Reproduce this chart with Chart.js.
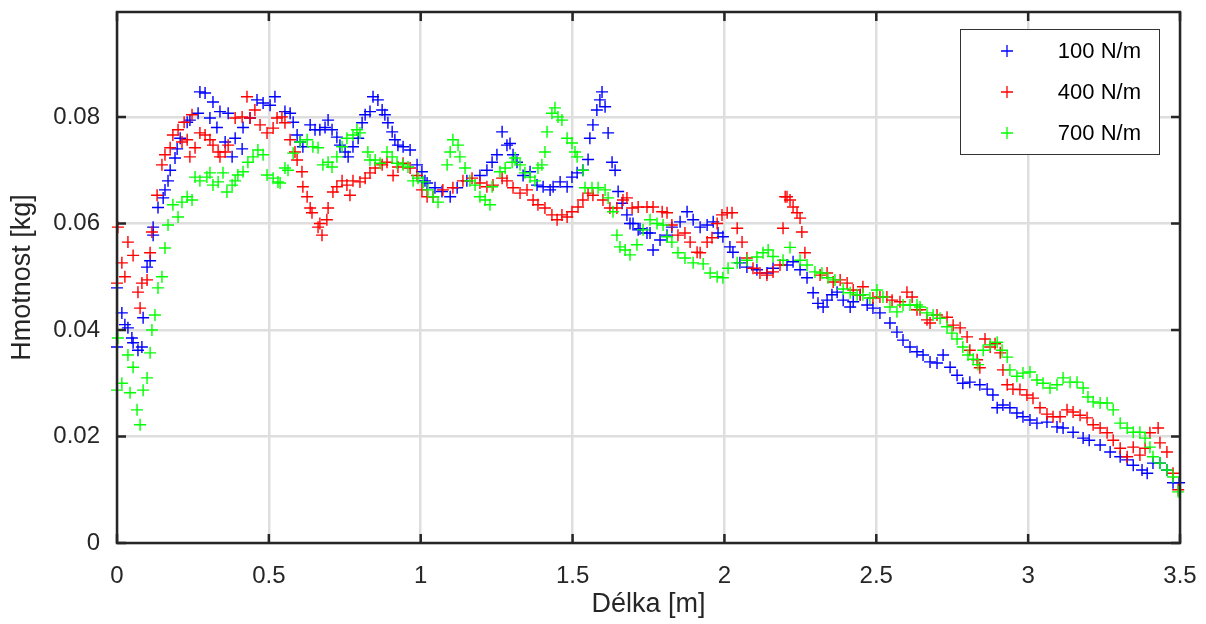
<!DOCTYPE html>
<html>
<head>
<meta charset="utf-8">
<title>Hmotnost</title>
<script src="https://cdn.jsdelivr.net/npm/chart.js@4.4.1/dist/chart.umd.min.js"></script>
<style>
  html, body { margin: 0; background: #fff; }
  .graphic-container { width: 1206px; height: 624px; position: relative; }
</style>
</head>
<body>
<div class="graphic-container"><canvas id="graphic"></canvas></div>
<script>
const xTicks = [0, 0.5, 1, 1.5, 2, 2.5, 3, 3.5];
const yTicks = [0, 0.02, 0.04, 0.06, 0.08];
const seriesNames = ["100 N/m", "400 N/m", "700 N/m"];
const seriesColors = ["#0000ff", "#ff0000", "#00ff00"];

// [délka m, hmotnost kg]
const spring100 = [[0.000,0.0479],[0.000,0.0368],[0.016,0.0432],[0.026,0.0410],[0.036,0.0404],[0.049,0.0385],[0.053,0.0376],[0.069,0.0362],[0.082,0.0368],[0.086,0.0423],[0.099,0.0518],[0.109,0.0530],[0.119,0.0578],[0.119,0.0593],[0.135,0.0630],[0.152,0.0648],[0.158,0.0663],[0.168,0.0680],[0.175,0.0700],[0.191,0.0723],[0.198,0.0740],[0.208,0.0760],[0.231,0.0790],[0.240,0.0794],[0.267,0.0807],[0.273,0.0847],[0.290,0.0845],[0.306,0.0798],[0.316,0.0828],[0.329,0.0780],[0.339,0.0810],[0.356,0.0753],[0.366,0.0807],[0.379,0.0725],[0.389,0.0760],[0.412,0.0740],[0.415,0.0780],[0.438,0.0798],[0.461,0.0832],[0.481,0.0826],[0.504,0.0822],[0.520,0.0838],[0.553,0.0810],[0.570,0.0807],[0.580,0.0790],[0.593,0.0766],[0.603,0.0753],[0.612,0.0744],[0.636,0.0785],[0.652,0.0776],[0.668,0.0776],[0.685,0.0780],[0.695,0.0794],[0.708,0.0776],[0.724,0.0762],[0.734,0.0747],[0.751,0.0734],[0.761,0.0725],[0.777,0.0744],[0.794,0.0760],[0.807,0.0789],[0.817,0.0804],[0.833,0.0810],[0.843,0.0838],[0.859,0.0832],[0.873,0.0813],[0.882,0.0804],[0.892,0.0789],[0.906,0.0772],[0.915,0.0757],[0.925,0.0747],[0.942,0.0744],[0.965,0.0738],[0.988,0.0710],[1.004,0.0697],[1.014,0.0680],[1.021,0.0676],[1.047,0.0667],[1.070,0.0660],[1.097,0.0650],[1.120,0.0667],[1.152,0.0680],[1.195,0.0690],[1.218,0.0700],[1.235,0.0715],[1.251,0.0729],[1.268,0.0772],[1.284,0.0747],[1.294,0.0750],[1.304,0.0729],[1.317,0.0715],[1.337,0.0690],[1.360,0.0697],[1.383,0.0672],[1.403,0.0669],[1.426,0.0663],[1.436,0.0669],[1.459,0.0678],[1.482,0.0669],[1.498,0.0687],[1.515,0.0695],[1.534,0.0700],[1.551,0.0720],[1.557,0.0760],[1.567,0.0785],[1.580,0.0813],[1.590,0.0832],[1.597,0.0847],[1.607,0.0819],[1.617,0.0770],[1.630,0.0715],[1.640,0.0700],[1.650,0.0660],[1.663,0.0638],[1.679,0.0616],[1.689,0.0600],[1.699,0.0600],[1.716,0.0588],[1.722,0.0590],[1.745,0.0582],[1.755,0.0582],[1.765,0.0550],[1.788,0.0569],[1.811,0.0578],[1.827,0.0593],[1.854,0.0603],[1.877,0.0622],[1.897,0.0607],[1.920,0.0593],[1.943,0.0597],[1.963,0.0603],[1.979,0.0582],[1.995,0.0575],[2.018,0.0556],[2.028,0.0546],[2.051,0.0526],[2.074,0.0518],[2.107,0.0513],[2.140,0.0507],[2.160,0.0516],[2.206,0.0522],[2.226,0.0528],[2.249,0.0513],[2.272,0.0498],[2.292,0.0470],[2.308,0.0450],[2.325,0.0443],[2.338,0.0456],[2.354,0.0466],[2.371,0.0471],[2.391,0.0456],[2.414,0.0443],[2.424,0.0453],[2.447,0.0466],[2.470,0.0447],[2.489,0.0441],[2.512,0.0432],[2.545,0.0413],[2.568,0.0396],[2.588,0.0381],[2.611,0.0368],[2.634,0.0359],[2.654,0.0353],[2.677,0.0340],[2.700,0.0338],[2.720,0.0353],[2.743,0.0330],[2.766,0.0315],[2.785,0.0300],[2.808,0.0302],[2.841,0.0297],[2.865,0.0289],[2.884,0.0278],[2.898,0.0254],[2.917,0.0259],[2.940,0.0254],[2.963,0.0244],[2.983,0.0237],[3.006,0.0231],[3.029,0.0225],[3.062,0.0227],[3.095,0.0218],[3.115,0.0216],[3.148,0.0208],[3.181,0.0197],[3.201,0.0193],[3.237,0.0184],[3.270,0.0171],[3.303,0.0162],[3.326,0.0156],[3.346,0.0146],[3.375,0.0137],[3.392,0.0131],[3.411,0.0150],[3.434,0.0150],[3.457,0.0137],[3.477,0.0113],[3.497,0.0113]];

const spring400 = [[0.000,0.0488],[0.003,0.0593],[0.016,0.0526],[0.026,0.0500],[0.036,0.0565],[0.053,0.0540],[0.069,0.0471],[0.076,0.0441],[0.082,0.0488],[0.099,0.0494],[0.109,0.0545],[0.115,0.0584],[0.132,0.0653],[0.148,0.0710],[0.158,0.0729],[0.175,0.0742],[0.184,0.0766],[0.201,0.0776],[0.214,0.0753],[0.221,0.0790],[0.231,0.0757],[0.240,0.0725],[0.247,0.0804],[0.257,0.0742],[0.273,0.0770],[0.290,0.0766],[0.306,0.0757],[0.316,0.0747],[0.333,0.0734],[0.339,0.0725],[0.356,0.0734],[0.366,0.0747],[0.389,0.0798],[0.412,0.0800],[0.428,0.0838],[0.438,0.0798],[0.454,0.0813],[0.471,0.0785],[0.494,0.0770],[0.514,0.0779],[0.527,0.0798],[0.543,0.0800],[0.553,0.0789],[0.570,0.0757],[0.586,0.0734],[0.593,0.0719],[0.609,0.0697],[0.612,0.0669],[0.626,0.0650],[0.636,0.0629],[0.642,0.0620],[0.662,0.0593],[0.668,0.0600],[0.675,0.0578],[0.691,0.0607],[0.695,0.0629],[0.711,0.0659],[0.724,0.0669],[0.741,0.0680],[0.757,0.0672],[0.767,0.0653],[0.777,0.0680],[0.800,0.0678],[0.817,0.0685],[0.833,0.0695],[0.850,0.0704],[0.873,0.0710],[0.889,0.0715],[0.909,0.0690],[0.925,0.0706],[0.942,0.0713],[0.965,0.0704],[0.988,0.0690],[1.004,0.0663],[1.021,0.0650],[1.041,0.0650],[1.073,0.0663],[1.106,0.0667],[1.139,0.0680],[1.169,0.0685],[1.195,0.0676],[1.218,0.0669],[1.238,0.0672],[1.268,0.0685],[1.284,0.0680],[1.304,0.0667],[1.327,0.0657],[1.350,0.0663],[1.370,0.0644],[1.386,0.0635],[1.409,0.0629],[1.432,0.0616],[1.449,0.0607],[1.465,0.0616],[1.482,0.0612],[1.498,0.0622],[1.518,0.0631],[1.534,0.0644],[1.551,0.0657],[1.567,0.0653],[1.600,0.0644],[1.623,0.0629],[1.646,0.0629],[1.666,0.0644],[1.679,0.0648],[1.696,0.0629],[1.716,0.0631],[1.745,0.0631],[1.765,0.0631],[1.795,0.0622],[1.811,0.0620],[1.827,0.0597],[1.847,0.0578],[1.870,0.0582],[1.887,0.0565],[1.910,0.0546],[1.920,0.0545],[1.943,0.0565],[1.959,0.0573],[1.976,0.0600],[1.992,0.0616],[2.009,0.0620],[2.025,0.0620],[2.042,0.0591],[2.058,0.0565],[2.074,0.0535],[2.094,0.0516],[2.117,0.0507],[2.140,0.0503],[2.160,0.0509],[2.183,0.0522],[2.193,0.0591],[2.200,0.0650],[2.206,0.0650],[2.216,0.0644],[2.226,0.0631],[2.239,0.0620],[2.249,0.0610],[2.255,0.0584],[2.265,0.0545],[2.315,0.0503],[2.338,0.0507],[2.358,0.0490],[2.381,0.0494],[2.404,0.0488],[2.424,0.0475],[2.447,0.0466],[2.456,0.0481],[2.489,0.0460],[2.512,0.0462],[2.535,0.0462],[2.552,0.0456],[2.578,0.0453],[2.601,0.0471],[2.618,0.0462],[2.634,0.0438],[2.644,0.0438],[2.667,0.0419],[2.677,0.0413],[2.700,0.0428],[2.733,0.0424],[2.753,0.0409],[2.776,0.0404],[2.799,0.0387],[2.808,0.0362],[2.832,0.0344],[2.841,0.0329],[2.858,0.0383],[2.875,0.0368],[2.891,0.0374],[2.908,0.0357],[2.917,0.0325],[2.931,0.0297],[2.950,0.0289],[2.973,0.0288],[2.996,0.0278],[3.016,0.0272],[3.039,0.0254],[3.062,0.0242],[3.082,0.0237],[3.105,0.0237],[3.128,0.0250],[3.148,0.0246],[3.171,0.0240],[3.194,0.0235],[3.214,0.0222],[3.237,0.0216],[3.260,0.0207],[3.280,0.0193],[3.303,0.0178],[3.326,0.0162],[3.346,0.0180],[3.368,0.0165],[3.385,0.0178],[3.401,0.0207],[3.428,0.0216],[3.434,0.0188],[3.457,0.0171],[3.477,0.0131],[3.494,0.0100]];

const spring700 = [[0.000,0.0287],[0.003,0.0385],[0.016,0.0300],[0.036,0.0353],[0.043,0.0282],[0.053,0.0330],[0.066,0.0250],[0.076,0.0222],[0.086,0.0287],[0.099,0.0310],[0.109,0.0357],[0.115,0.0400],[0.125,0.0428],[0.135,0.0479],[0.148,0.0500],[0.158,0.0554],[0.168,0.0597],[0.184,0.0635],[0.201,0.0612],[0.214,0.0640],[0.231,0.0650],[0.247,0.0644],[0.257,0.0687],[0.273,0.0680],[0.296,0.0687],[0.306,0.0695],[0.316,0.0672],[0.333,0.0678],[0.349,0.0695],[0.362,0.0659],[0.379,0.0672],[0.389,0.0680],[0.398,0.0691],[0.415,0.0697],[0.431,0.0715],[0.448,0.0725],[0.464,0.0738],[0.481,0.0729],[0.494,0.0691],[0.514,0.0685],[0.530,0.0678],[0.537,0.0676],[0.553,0.0704],[0.563,0.0700],[0.580,0.0732],[0.603,0.0753],[0.626,0.0757],[0.645,0.0744],[0.662,0.0742],[0.678,0.0710],[0.695,0.0715],[0.708,0.0706],[0.724,0.0725],[0.741,0.0744],[0.757,0.0760],[0.777,0.0766],[0.790,0.0776],[0.800,0.0770],[0.826,0.0734],[0.833,0.0719],[0.850,0.0719],[0.866,0.0713],[0.889,0.0734],[0.906,0.0725],[0.922,0.0713],[0.942,0.0710],[0.958,0.0706],[0.975,0.0680],[0.991,0.0685],[1.008,0.0678],[1.024,0.0663],[1.041,0.0650],[1.057,0.0640],[1.087,0.0710],[1.097,0.0734],[1.106,0.0757],[1.123,0.0747],[1.129,0.0725],[1.146,0.0704],[1.162,0.0680],[1.179,0.0672],[1.195,0.0650],[1.212,0.0644],[1.228,0.0635],[1.235,0.0669],[1.261,0.0697],[1.278,0.0704],[1.301,0.0715],[1.311,0.0723],[1.327,0.0710],[1.343,0.0695],[1.360,0.0687],[1.376,0.0680],[1.386,0.0704],[1.399,0.0710],[1.409,0.0734],[1.416,0.0772],[1.432,0.0807],[1.442,0.0817],[1.452,0.0800],[1.465,0.0794],[1.482,0.0760],[1.498,0.0751],[1.508,0.0734],[1.515,0.0725],[1.534,0.0700],[1.541,0.0667],[1.564,0.0667],[1.584,0.0667],[1.607,0.0663],[1.617,0.0648],[1.633,0.0622],[1.646,0.0578],[1.656,0.0556],[1.673,0.0550],[1.689,0.0541],[1.712,0.0560],[1.732,0.0588],[1.755,0.0607],[1.778,0.0600],[1.798,0.0597],[1.811,0.0575],[1.827,0.0565],[1.847,0.0545],[1.870,0.0535],[1.897,0.0526],[1.930,0.0524],[1.953,0.0507],[1.976,0.0500],[1.995,0.0498],[2.012,0.0516],[2.042,0.0526],[2.074,0.0531],[2.107,0.0537],[2.127,0.0545],[2.144,0.0550],[2.160,0.0538],[2.193,0.0531],[2.216,0.0555],[2.249,0.0531],[2.272,0.0522],[2.298,0.0509],[2.321,0.0507],[2.341,0.0498],[2.364,0.0494],[2.391,0.0477],[2.414,0.0470],[2.437,0.0466],[2.456,0.0466],[2.479,0.0460],[2.502,0.0475],[2.522,0.0462],[2.545,0.0443],[2.568,0.0434],[2.588,0.0447],[2.611,0.0447],[2.634,0.0447],[2.644,0.0443],[2.667,0.0432],[2.687,0.0428],[2.710,0.0422],[2.733,0.0406],[2.749,0.0394],[2.766,0.0383],[2.785,0.0368],[2.802,0.0353],[2.819,0.0345],[2.835,0.0335],[2.852,0.0362],[2.875,0.0372],[2.898,0.0377],[2.914,0.0362],[2.931,0.0349],[2.940,0.0325],[2.963,0.0313],[2.983,0.0319],[3.006,0.0321],[3.029,0.0306],[3.049,0.0300],[3.072,0.0291],[3.095,0.0297],[3.115,0.0310],[3.138,0.0302],[3.161,0.0302],[3.181,0.0291],[3.197,0.0274],[3.214,0.0265],[3.237,0.0263],[3.260,0.0263],[3.280,0.0250],[3.303,0.0225],[3.326,0.0216],[3.346,0.0208],[3.368,0.0208],[3.385,0.0197],[3.401,0.0180],[3.411,0.0162],[3.434,0.0150],[3.457,0.0137],[3.477,0.0124],[3.494,0.0096]];

const textColor = "#262626";
const fontFamily = "'Liberation Sans', Arial, sans-serif";

function toPoints(pairs) {
  return pairs.map(([x, y]) => ({ x, y }));
}

// rámeček os, vnitřní tiky a legenda
const framePlugin = {
  id: "frame",
  afterDraw(chart) {
    const { ctx, chartArea: a, scales } = chart;
    ctx.save();
    ctx.strokeStyle = textColor;
    ctx.lineWidth = 2.5;
    ctx.strokeRect(a.left, a.top, a.right - a.left, a.bottom - a.top);
    const tl = 9;
    ctx.beginPath();
    xTicks.forEach((v) => {
      const px = scales.x.getPixelForValue(v);
      ctx.moveTo(px, a.bottom); ctx.lineTo(px, a.bottom - tl);
      ctx.moveTo(px, a.top); ctx.lineTo(px, a.top + tl);
    });
    yTicks.forEach((v) => {
      const py = scales.y.getPixelForValue(v);
      ctx.moveTo(a.left, py); ctx.lineTo(a.left + tl, py);
      ctx.moveTo(a.right, py); ctx.lineTo(a.right - tl, py);
    });
    ctx.stroke();

    // legenda
    const box = { x: 960, y: 29, w: 199, h: 125 };
    ctx.fillStyle = "#fff";
    ctx.fillRect(box.x, box.y, box.w, box.h);
    ctx.strokeStyle = "#333";
    ctx.lineWidth = 1;
    ctx.strokeRect(box.x + 0.5, box.y + 0.5, box.w, box.h);
    ctx.font = `22px ${fontFamily}`;
    ctx.textBaseline = "middle";
    ctx.textAlign = "right";
    seriesNames.forEach((name, i) => {
      const cy = 51 + i * 41;
      ctx.strokeStyle = seriesColors[i];
      ctx.lineWidth = 1.3;
      ctx.beginPath();
      ctx.moveTo(1001, cy); ctx.lineTo(1013, cy);
      ctx.moveTo(1007, cy - 6); ctx.lineTo(1007, cy + 6);
      ctx.stroke();
      ctx.fillStyle = "#000";
      ctx.fillText(name, 1141, cy + 1);
    });
    ctx.restore();
  },
};

const graphicElement = document.getElementById("graphic");
const series = [spring100, spring400, spring700];

const graphicChart = new Chart(graphicElement, {
  type: "scatter",
  data: {
    datasets: series.map((pairs, i) => ({
      label: seriesNames[i],
      data: toPoints(pairs),
      pointStyle: "cross",
      pointRadius: 6,
      pointBorderWidth: 1.4,
      borderColor: seriesColors[i],
      backgroundColor: seriesColors[i],
      order: 3 - i,
      clip: false,
    })),
  },
  options: {
    responsive: true,
    maintainAspectRatio: false,
    animation: false,
    events: [],
    layout: { padding: { top: 12, right: 26, left: 0, bottom: 0 } },
    plugins: { legend: { display: false }, tooltip: { enabled: false } },
    scales: {
      x: {
        type: "linear",
        min: 0,
        max: 3.5,
        afterBuildTicks: (s) => { s.ticks = xTicks.map((v) => ({ value: v })); },
        afterFit: (s) => {
          s.height = 81;
          s.paddingLeft = 0;
          s.paddingRight = 0;
        },
        grid: { color: "#dedede", lineWidth: 2.5, drawTicks: false },
        border: { display: false },
        ticks: {
          padding: 19,
          color: textColor,
          font: { family: fontFamily, size: 24 },
          maxRotation: 0,
          callback: (v) => String(v),
        },
        title: {
          display: true,
          text: "Délka [m]",
          color: textColor,
          font: { family: fontFamily, size: 27 },
          padding: { top: 0, bottom: 3 },
        },
      },
      y: {
        type: "linear",
        min: 0,
        max: 0.0997,
        afterBuildTicks: (s) => { s.ticks = yTicks.map((v) => ({ value: v })); },
        afterFit: (s) => {
          s.width = 117;
          s.paddingTop = 0;
          s.paddingBottom = 0;
        },
        grid: { color: "#dedede", lineWidth: 2.5, drawTicks: false },
        border: { display: false },
        ticks: {
          padding: 17,
          color: textColor,
          font: { family: fontFamily, size: 24 },
          callback: (v) => String(v),
        },
        title: {
          display: true,
          text: "Hmotnost [kg]",
          color: textColor,
          font: { family: fontFamily, size: 27 },
          padding: { top: 6, bottom: 0 },
        },
      },
    },
  },
  plugins: [framePlugin],
});
</script>
</body>
</html>
